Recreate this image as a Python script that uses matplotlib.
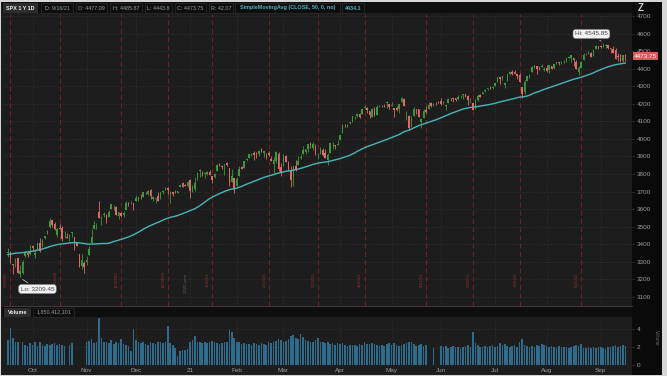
import matplotlib
matplotlib.use("Agg")
import matplotlib.pyplot as plt
import matplotlib.transforms as mtransforms
from matplotlib.patches import Rectangle
import numpy as np
import pandas as pd

# ---------------------------------------------------------------------------
# Data: SPX daily candles 2020-09-17 .. 2021-09-16
# ---------------------------------------------------------------------------
HOLIDAYS = ["2020-11-26", "2020-12-25", "2021-01-01", "2021-01-18", "2021-02-15",
            "2021-04-02", "2021-05-31", "2021-07-05", "2021-09-06"]

opens = [
    3346, 3357, 3285, 3295, 3320, 3226, 3236, 3334, 3350, 3341,  # Sep 20
    3386, 3338, 3367, 3408, 3385, 3434, 3459, 3500, 3535, 3515, 3453, 3493, 3493, 3440,
    3440, 3438, 3464, 3441, 3404, 3342, 3277, 3294,  # Oct
    3296, 3336, 3406, 3485, 3508, 3583, 3543, 3563, 3562, 3553, 3601, 3610, 3612, 3559,
    3580, 3567, 3594, 3635, 3638, 3634,  # Nov
    3645, 3654, 3669, 3670, 3694, 3683, 3706, 3659, 3656, 3676, 3666, 3696, 3713, 3722,
    3684, 3698, 3693, 3694, 3723, 3750, 3737, 3733,  # Dec
    3764, 3698, 3713, 3764, 3815, 3803, 3801, 3802, 3814, 3788, 3781, 3817, 3857, 3845,
    3852, 3863, 3836, 3755, 3779,  # Jan
    3731, 3791, 3840, 3836, 3878, 3892, 3910, 3920, 3917, 3912, 3940, 3918, 3915, 3921,
    3886, 3858, 3873, 3915, 3839,  # Feb
    3843, 3903, 3863, 3818, 3793, 3844, 3851, 3891, 3916, 3924, 3943, 3974, 3949, 3954,
    3913, 3917, 3938, 3920, 3879, 3918, 3969, 3964, 3967,  # Mar
    3993, 4034, 4075, 4075, 4089, 4096, 4125, 4130, 4141, 4140, 4175, 4179, 4159, 4128,
    4170, 4139, 4185, 4189, 4185, 4206, 4198,  # Apr
    4191, 4179, 4177, 4169, 4210, 4228, 4150, 4131, 4075, 4130, 4170, 4169, 4099, 4122,
    4168, 4170, 4205, 4191, 4201, 4210,  # May
    4216, 4207, 4191, 4207, 4229, 4233, 4232, 4229, 4243, 4249, 4255, 4248, 4220, 4205,
    4174, 4224, 4249, 4256, 4274, 4284, 4294, 4291,  # Jun
    4300, 4326, 4356, 4351, 4311, 4329, 4372, 4381, 4381, 4369, 4368, 4297, 4266, 4331,
    4361, 4381, 4410, 4417, 4403, 4411, 4395,  # Jul
    4406, 4393, 4415, 4406, 4430, 4439, 4436, 4443, 4446, 4464, 4461, 4462, 4440, 4382,
    4406, 4450, 4484, 4490, 4493, 4474, 4514, 4529,  # Aug
    4529, 4535, 4532, 4535, 4519, 4513, 4506, 4474, 4480, 4447, 4477.09,  # Sep 21
]
highs = [
    3375, 3362, 3286, 3320, 3323, 3278, 3306, 3361, 3358, 3393,
    3397, 3370, 3409, 3432, 3426, 3447, 3482, 3550, 3535, 3527, 3489, 3515, 3502, 3477,
    3464, 3460, 3466, 3441, 3410, 3342, 3342, 3305,
    3330, 3389, 3486, 3529, 3521, 3645, 3558, 3582, 3569, 3593, 3628, 3624, 3619, 3585,
    3582, 3590, 3643, 3638, 3644, 3635,
    3679, 3670, 3683, 3699, 3698, 3708, 3712, 3672, 3665, 3698, 3695, 3711, 3725, 3726,
    3703, 3698, 3711, 3703, 3740, 3756, 3744, 3760,
    3770, 3738, 3784, 3811, 3826, 3817, 3810, 3820, 3823, 3788, 3805, 3859, 3862, 3853,
    3860, 3870, 3836, 3830, 3779,
    3784, 3843, 3848, 3872, 3894, 3916, 3919, 3932, 3926, 3935, 3950, 3933, 3921, 3932,
    3903, 3895, 3929, 3926, 3861,
    3915, 3907, 3875, 3843, 3851, 3882, 3903, 3917, 3961, 3944, 3970, 3982, 3984, 3969,
    3921, 3956, 3949, 3943, 3920, 3978, 3981, 3968, 3995,
    4021, 4083, 4087, 4084, 4099, 4129, 4131, 4148, 4151, 4173, 4192, 4180, 4160, 4175,
    4180, 4194, 4194, 4193, 4202, 4219, 4198,
    4209, 4179, 4187, 4202, 4238, 4236, 4162, 4135, 4131, 4183, 4172, 4170, 4118, 4173,
    4188, 4209, 4214, 4203, 4213, 4218,
    4235, 4215, 4197, 4234, 4233, 4236, 4237, 4249, 4249, 4256, 4258, 4251, 4233, 4206,
    4226, 4255, 4256, 4271, 4287, 4292, 4301, 4302,
    4320, 4355, 4356, 4362, 4324, 4372, 4387, 4392, 4393, 4369, 4376, 4297, 4337, 4359,
    4369, 4415, 4422, 4416, 4415, 4430, 4412,
    4422, 4424, 4417, 4430, 4441, 4440, 4445, 4449, 4461, 4468, 4480, 4462, 4454, 4418,
    4444, 4489, 4492, 4501, 4496, 4513, 4538, 4532,
    4537, 4545.85, 4541, 4535, 4521, 4529, 4521, 4492, 4485, 4482, 4485.87,
]
lows = [
    3328, 3293, 3230, 3270, 3232, 3209.45, 3228, 3326, 3328, 3340,
    3362, 3323, 3367, 3354, 3385, 3429, 3458, 3493, 3500, 3478, 3441, 3483, 3420, 3434,
    3433, 3416, 3440, 3364, 3388, 3268, 3260, 3233,
    3279, 3336, 3406, 3485, 3484, 3547, 3511, 3557, 3518, 3553, 3601, 3594, 3567, 3543,
    3556, 3553, 3592, 3617, 3630, 3594,
    3645, 3645, 3657, 3670, 3683, 3678, 3660, 3647, 3634, 3645, 3659, 3685, 3710, 3685,
    3636, 3676, 3689, 3690, 3723, 3723, 3730, 3726,
    3663, 3696, 3705, 3764, 3784, 3790, 3776, 3792, 3792, 3750, 3780, 3816, 3846, 3830,
    3797, 3847, 3732, 3755, 3694,
    3725, 3791, 3826, 3836, 3874, 3892, 3902, 3880, 3890, 3900, 3923, 3898, 3885, 3900,
    3875, 3805, 3865, 3818, 3789,
    3843, 3868, 3818, 3723, 3731, 3815, 3851, 3885, 3916, 3915, 3923, 3949, 3936, 3910,
    3885, 3917, 3902, 3889, 3853, 3918, 3944, 3945, 3966,
    3993, 4034, 4069, 4068, 4083, 4095, 4114, 4124, 4120, 4140, 4170, 4150, 4119, 4127,
    4129, 4139, 4182, 4182, 4182, 4176, 4174,
    4188, 4128, 4158, 4147, 4209, 4188, 4111, 4057, 4069, 4130, 4142, 4125, 4062, 4122,
    4151, 4170, 4180, 4190, 4197, 4203,
    4197, 4198, 4167, 4206, 4217, 4210, 4219, 4221, 4233, 4230, 4238, 4196, 4203, 4165,
    4174, 4217, 4241, 4256, 4271, 4281, 4283, 4287,
    4300, 4326, 4313, 4336, 4289, 4329, 4365, 4367, 4369, 4340, 4327, 4233, 4259, 4331,
    4350, 4381, 4405, 4373, 4395, 4411, 4387,
    4385, 4379, 4397, 4402, 4428, 4425, 4430, 4436, 4437, 4461, 4437, 4418, 4397, 4368,
    4406, 4450, 4482, 4485, 4469, 4474, 4514, 4514,
    4522, 4527, 4522, 4513, 4493, 4493, 4459, 4447, 4438, 4439, 4443.8,
]
closes = [
    3357, 3320, 3281, 3315, 3237, 3246, 3298, 3351, 3335, 3363,
    3380, 3348, 3408, 3361, 3419, 3446, 3477, 3534, 3511, 3488, 3483, 3484, 3427, 3443,
    3435, 3453, 3465, 3400, 3391, 3271, 3310, 3270,
    3310, 3370, 3443, 3510, 3509, 3551, 3545, 3573, 3537, 3585, 3627, 3610, 3568, 3582,
    3558, 3578, 3635, 3629, 3638, 3622,
    3662, 3669, 3666, 3699, 3692, 3702, 3673, 3668, 3663, 3647, 3695, 3702, 3722, 3709,
    3695, 3687, 3690, 3703, 3735, 3727, 3732, 3756,
    3701, 3726, 3748, 3804, 3825, 3799, 3801, 3809, 3795, 3768, 3798, 3852, 3853, 3841,
    3855, 3849, 3751, 3787, 3714,
    3774, 3826, 3830, 3872, 3887, 3915, 3911, 3910, 3916, 3934, 3933, 3932, 3914, 3906,
    3877, 3881, 3925, 3829, 3811,
    3901, 3871, 3820, 3768, 3842, 3821, 3875, 3898, 3939, 3943, 3969, 3963, 3974, 3915,
    3913, 3940, 3910, 3889, 3910, 3975, 3971, 3959, 3973,
    4020, 4078, 4074, 4080, 4097, 4129, 4128, 4142, 4125, 4170, 4185, 4163, 4135, 4173,
    4135, 4180, 4188, 4187, 4184, 4211, 4181,
    4193, 4165, 4168, 4201, 4233, 4189, 4152, 4063, 4113, 4174, 4164, 4128, 4116, 4160,
    4156, 4197, 4188, 4195, 4200, 4204,
    4202, 4208, 4192, 4230, 4227, 4227, 4220, 4239, 4247, 4255, 4246, 4224, 4222, 4166,
    4224, 4246, 4242, 4266, 4281, 4291, 4291, 4298,
    4320, 4352, 4344, 4358, 4321, 4370, 4385, 4369, 4374, 4360, 4327, 4259, 4323, 4359,
    4368, 4412, 4422, 4401, 4401, 4419, 4395,
    4387, 4423, 4402, 4430, 4437, 4432, 4436, 4447, 4460, 4468, 4480, 4449, 4400, 4406,
    4442, 4480, 4486, 4497, 4470, 4509, 4529, 4523,
    4524, 4537, 4535, 4520, 4514, 4493, 4459, 4469, 4443, 4480, 4473.75,
]
# 49 closes before the window, needed to start the 50-day average
prior_closes = [
    3152, 3185, 3155, 3197, 3227, 3216, 3224, 3251, 3257, 3276, 3236, 3216, 3239, 3218,
    3258, 3246, 3271,
    3295, 3306, 3327, 3349, 3351, 3360, 3333, 3380, 3373, 3373, 3381, 3389, 3375, 3386,
    3397, 3431, 3444, 3479, 3485, 3508, 3500,
    3527, 3580, 3455, 3427, 3332, 3399, 3340, 3341, 3383, 3401, 3385,
]
# volume in billions of shares (0 = no bar drawn on the chart)
volumes = [
    2.8, 4.1, 3.0, 2.5, 2.6, 0, 2.5, 2.2, 2.1, 2.4,
    2.2, 2.6, 2.1, 2.5, 2.2, 2.1, 2.3, 2.2, 2.3, 2.4, 2.2, 2.3, 2.2, 2.1, 0, 2.2, 2.4,
    0, 0, 0, 0, 0,
    2.5, 2.7, 2.9, 2.4, 2.6, 5.2, 3.0, 2.5, 2.6, 2.4, 2.8, 2.3, 2.5, 2.4, 2.9, 2.3, 2.2,
    2.1, 1.5, 4.0,
    2.8, 2.6, 2.4, 2.5, 2.3, 2.2, 2.6, 2.4, 2.3, 2.5, 2.6, 2.4, 2.5, 4.3, 2.4, 2.2, 1.9,
    1.0, 1.6, 1.7, 1.7, 1.8,
    2.6, 2.8, 3.2, 2.6, 2.5, 2.4, 2.5, 2.4, 2.5, 2.7, 2.5, 2.4, 2.3, 2.4, 2.6, 2.5, 3.9,
    3.6, 3.0,
    2.6, 2.5, 2.3, 2.4, 2.3, 2.3, 2.2, 2.4, 2.3, 2.2, 2.4, 2.3, 2.2, 2.5, 2.4, 2.6, 2.7,
    2.9, 2.8,
    2.6, 2.7, 2.9, 3.2, 3.3, 3.0, 2.9, 3.4, 3.1, 2.8, 2.7, 2.6, 2.6, 2.8, 3.0, 2.6, 2.5,
    2.4, 2.6, 2.3, 2.4, 2.2, 2.4,
    2.3, 2.4, 2.2, 2.1, 2.2, 2.2, 2.2, 2.1, 2.3, 2.2, 2.5, 2.3, 2.3, 2.4, 2.3, 2.2, 2.1,
    2.2, 2.1, 2.3, 2.4,
    2.2, 2.4, 2.2, 2.1, 2.2, 2.3, 2.4, 2.6, 2.5, 2.3, 2.1, 2.2, 2.3, 2.1, 2.2, 0, 0, 1.9,
    0, 0,
    2.1, 2.0, 2.1, 1.9, 2.0, 2.1, 2.0, 2.0, 1.9, 2.0, 2.1, 2.2, 2.0, 3.6, 2.4, 2.2, 2.0,
    2.0, 2.1, 2.0, 2.1, 2.2,
    2.0, 2.1, 2.4, 2.2, 2.3, 2.1, 2.0, 2.1, 2.2, 2.0, 2.5, 2.9, 2.2, 2.1, 2.0, 2.1, 2.0,
    2.2, 2.1, 2.3, 2.2,
    2.1, 2.0, 2.1, 2.0, 1.9, 2.1, 2.0, 2.0, 2.0, 1.9, 2.0, 2.1, 2.2, 2.1, 2.3, 1.9, 1.9,
    2.0, 1.9, 2.0, 1.9, 2.0,
    2.0, 1.9, 1.8, 2.0, 2.0, 2.1, 2.2, 2.0, 2.1, 2.2, 2.1,
]

month_labels = ["Oct", "Nov", "Dec", "21", "Feb", "Mar", "Apr", "May", "Jun", "Jul",
                "Aug", "Sep"]
expiry_dates = ["2020-09-18", "2020-10-16", "2020-11-20", "2020-12-18", "2021-01-15",
                "2021-02-19", "2021-03-19", "2021-04-16", "2021-05-21", "2021-06-18",
                "2021-07-16", "2021-08-20"]
expiry_labels = ["9/18/20", "10/16/20", "11/20/20", "12/18/20", "1/15/21", "2/19/21",
                 "3/19/21", "4/16/21", "5/21/21", "6/18/21", "7/16/21", "8/20/21"]
price_ticks = list(range(3100, 4800, 100))
header_fields = ["D: 9/16/21", "O: 4477.09", "H: 4485.87", "L: 4443.8", "C: 4473.75",
                 "R: 42.07"]
study_label = "SimpleMovingAvg (CLOSE, 50, 0, no)"
study_value = "4434.1"
volume_value = "1,850,412,101"

# ---------------------------------------------------------------------------
# Style
# ---------------------------------------------------------------------------
plt.rcParams["font.family"] = ["Liberation Sans", "DejaVu Sans"]

BG = "#1d1d1d"
BAR_BG = "#0e0e0e"
AXIS_BG = "#0a0a0a"
UP = "#3a9a3a"
DOWN = "#e06a6a"
SMA_COL = "#4cb4b4"
VOL_COL = "#2f6b8c"
GRID = "#3d3d3d"
EXP_COL = "#7c1e1e"
TXT = "#9c9c9c"
FS = 4.6
HDR_FS = 3.9

W, H = 667, 376


def fx(px):
    return px / W


def fy(py):
    return 1 - py / H


def fig_rect(fig, x0, y0, x1, y1, fc, ec="none", lw=0.0):
    fig.patches.append(Rectangle((fx(x0), fy(y1)), fx(x1) - fx(x0), fy(y0) - fy(y1),
                                 transform=fig.transFigure, fc=fc, ec=ec, lw=lw,
                                 zorder=-1))


dates = pd.bdate_range("2020-09-17", "2021-09-16")
dates = dates[~dates.isin(pd.to_datetime(HOLIDAYS))]
o, h, l, c = (np.array(v, dtype=float) for v in (opens, highs, lows, closes))
vol = np.array(volumes, dtype=float)
assert len(dates) == len(o) == len(h) == len(l) == len(c) == len(vol), \
    (len(dates), len(o), len(h), len(l), len(c), len(vol))
idx = np.arange(len(c))

sma = pd.Series(prior_closes + closes).rolling(50).mean().to_numpy()[len(prior_closes):]
month_pos = [int(np.argmax((dates.month == d.month) & (dates.year == d.year)))
             for d in pd.date_range("2020-10-01", "2021-09-01", freq="MS")]
exp_pos = list(dates.get_indexer(pd.to_datetime(expiry_dates)))

fig = plt.figure(figsize=(W / 100, H / 100), dpi=100, facecolor="#d6d6d6")
fig_rect(fig, 1, 2, 662, 375, BG)
fig_rect(fig, 632, 2, 662, 375, AXIS_BG)

xl = (-1.6, 253.7)

# ---- price pane -----------------------------------------------------------
ax = fig.add_axes([fx(4), fy(306), fx(632) - fx(4), fy(14) - fy(306)])
ax.set_facecolor(BG)
ax.set_xlim(*xl)
ax.set_ylim(3046, 4714)
for s in ax.spines.values():
    s.set_visible(False)
ax.spines["bottom"].set_visible(True)
ax.spines["bottom"].set_color("#444444")
ax.spines["bottom"].set_linewidth(0.6)
ax.set_xticks([])
ax.yaxis.tick_right()
ax.set_yticks(price_ticks)
ax.tick_params(axis="y", length=1.5, width=0.4, color="#555555", labelcolor=TXT,
               labelsize=FS, pad=2)

for p in price_ticks:
    ax.axhline(p, color=GRID, lw=0.5, ls=(0, (1, 2.5)), zorder=1)
for m in month_pos:
    ax.axvline(m, color=GRID, lw=0.5, ls=(0, (1, 2.5)), zorder=1)
for e, lab in zip(exp_pos, expiry_labels):
    ax.axvline(e, color=EXP_COL, lw=0.7, ls=(0, (5, 3.5)), zorder=1)
    ax.text(e - 1.7, 3195, lab, rotation=90, ha="center", va="center", fontsize=3.2,
            color="#93302e", zorder=1)
ax.text(month_pos[3] - 1.7, 3175, "2020 year", rotation=90, ha="center", va="center",
        fontsize=3.2, color="#5c5c5c", zorder=1)

colors = np.where(c >= o, UP, DOWN)
ax.vlines(idx, l, h, colors=colors, lw=0.6, zorder=3)
ax.bar(idx, np.maximum(np.abs(c - o), 2.0), bottom=np.minimum(o, c), width=0.62,
       color=colors, lw=0, zorder=3)
ax.plot(idx, sma, color=SMA_COL, lw=1.0, zorder=4)

hi_i, lo_i = int(np.argmax(h)), int(np.argmin(l))
ax.annotate(f"Hi: {h[hi_i]:.2f}", xy=(hi_i, h[hi_i] + 3), xytext=(hi_i - 4.8, 4600),
            ha="center", va="center", fontsize=FS, color="#444444", zorder=6,
            bbox=dict(boxstyle="round,pad=0.3,rounding_size=0.4", fc="#f2f2f2",
                      ec="#9a9a9a", lw=0.4),
            arrowprops=dict(arrowstyle="-", color="#d0d0d0", lw=0.5))
ax.annotate(f"Lo: {l[lo_i]:.2f}", xy=(lo_i, l[lo_i] - 3), xytext=(lo_i + 7.0, 3143),
            ha="center", va="center", fontsize=FS, color="#444444", zorder=6,
            bbox=dict(boxstyle="round,pad=0.3,rounding_size=0.4", fc="#f2f2f2",
                      ec="#9a9a9a", lw=0.4),
            arrowprops=dict(arrowstyle="-", color="#d0d0d0", lw=0.5))

tr = mtransforms.blended_transform_factory(ax.transAxes, ax.transData)
ax.text(1.003, c[-1], f"{c[-1]:.2f}", transform=tr, ha="left", va="center",
        fontsize=FS, color="#ffffff", clip_on=False, zorder=7,
        bbox=dict(boxstyle="square,pad=0.2", fc="#e05555", ec="none"))

# ---- volume pane ----------------------------------------------------------
axv = fig.add_axes([fx(4), fy(365), fx(632) - fx(4), fy(318) - fy(365)])
axv.set_facecolor(BG)
axv.set_xlim(*xl)
axv.set_ylim(0, 5.2)
for s in axv.spines.values():
    s.set_visible(False)
for v in (2, 4):
    axv.axhline(v, color=GRID, lw=0.5, ls=(0, (1, 2.5)), zorder=1)
for m in month_pos:
    axv.axvline(m, color=GRID, lw=0.5, ls=(0, (1, 2.5)), zorder=1)
axv.bar(idx, vol, width=0.65, color=VOL_COL, lw=0, zorder=3)
axv.yaxis.tick_right()
axv.set_yticks([0, 2, 4])
axv.tick_params(axis="y", length=1.5, width=0.4, color="#555555", labelcolor=TXT,
                labelsize=FS, pad=2)
axv.set_xticks(month_pos)
axv.set_xticklabels(month_labels)
axv.tick_params(axis="x", length=0, labelcolor=TXT, labelsize=FS, pad=2.5)

# ---- header bars ----------------------------------------------------------
fig_rect(fig, 2, 2, 632, 13, BAR_BG)
fig_rect(fig, 3, 3, 38, 12.5, "#2c2c2c")
fig.text(fx(20.5), fy(8), "SPX 1 Y 1D", ha="center", va="center", fontsize=HDR_FS,
         color="#f0f0f0", fontweight="bold")
box_edges = [(41, 73), (76, 107), (110, 142), (145, 172), (175, 206), (209, 233)]
for (x0, x1), txt in zip(box_edges, header_fields):
    fig_rect(fig, x0, 3, x1, 12.5, BAR_BG, ec="#333333", lw=0.4)
    fig.text(fx((x0 + x1) / 2), fy(8), txt, ha="center", va="center", fontsize=HDR_FS,
             color=TXT)
fig_rect(fig, 235, 3, 340, 12.5, BAR_BG, ec="#333333", lw=0.4)
fig.text(fx(287.5), fy(8), study_label, ha="center", va="center", fontsize=HDR_FS,
         color=SMA_COL, fontweight="bold")
fig_rect(fig, 342, 3, 364, 12.5, BAR_BG, ec="#333333", lw=0.4)
fig.text(fx(353), fy(8), study_value, ha="center", va="center", fontsize=HDR_FS,
         color=SMA_COL, fontweight="bold")
fig.text(fx(641), fy(8), "Z", ha="center", va="center", fontsize=7, color="#d0d0d0",
         fontweight="bold")

fig_rect(fig, 2, 307, 632, 317, BAR_BG)
fig_rect(fig, 4, 308, 31, 316.5, "#2c2c2c")
fig.text(fx(17.5), fy(312), "Volume", ha="center", va="center", fontsize=HDR_FS,
         color="#f0f0f0", fontweight="bold")
fig_rect(fig, 33, 308, 74, 316.5, BAR_BG, ec="#333333", lw=0.4)
fig.text(fx(53.5), fy(312), volume_value, ha="center", va="center", fontsize=HDR_FS,
         color=TXT)
fig.text(fx(656), fy(338), "Volume", rotation=270, ha="center", va="center",
         fontsize=3.3, color="#6a6a6a")

fig.savefig("out.png", dpi=100, facecolor=fig.get_facecolor())
